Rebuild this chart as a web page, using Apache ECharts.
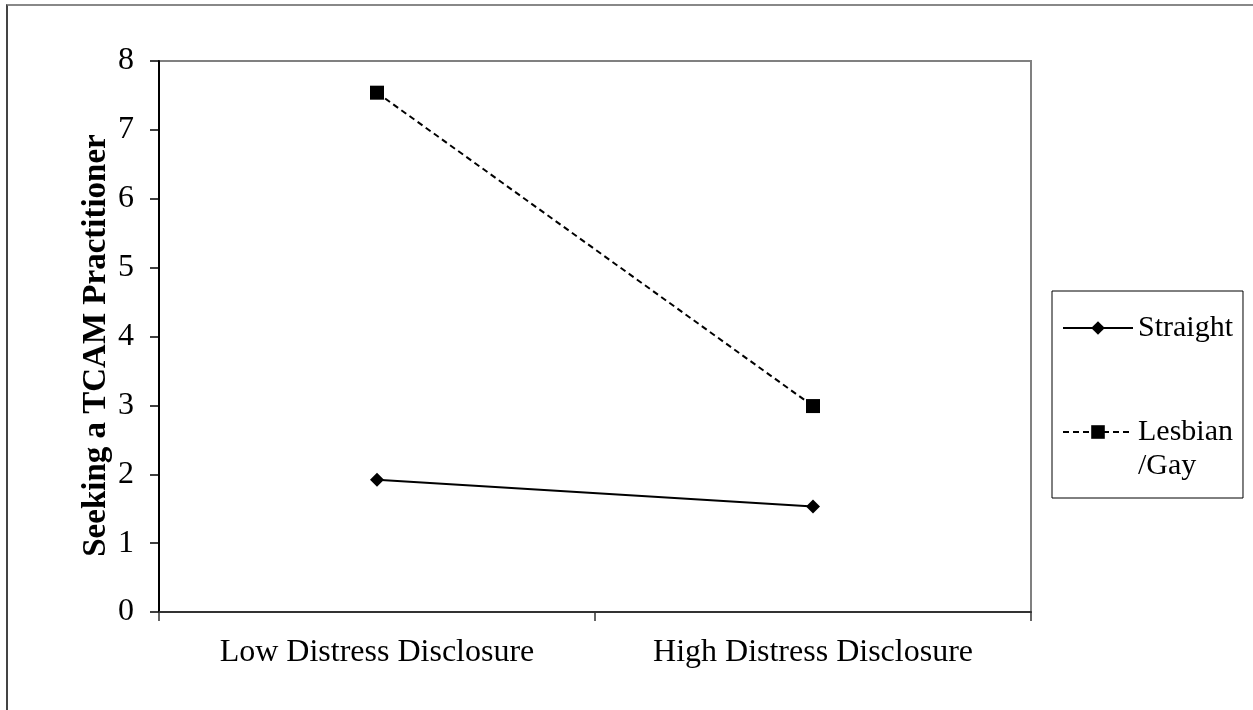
<!DOCTYPE html>
<html>
<head>
<meta charset="utf-8">
<script src="https://cdn.jsdelivr.net/npm/echarts@6/dist/echarts.min.js"></script>
<style>
  html, body { margin: 0; padding: 0; background: #fff; }
  #chart { position: absolute; left: 0; top: 0; width: 1253px; height: 710px; }
  #frame { position: absolute; left: 6px; top: 4px; width: 1300px; height: 800px;
           border-left: 2px solid #444; border-top: 2px solid #888; pointer-events: none; }
</style>
</head>
<body>
<div id="chart"></div>
<div id="frame"></div>
<script>
const categories = ['Low Distress Disclosure', 'High Distress Disclosure'];
const straightValues = [1.92, 1.53];
const lesbianGayValues = [7.54, 2.99];
const seriesNames = ['Straight', 'Lesbian/Gay'];
const yTicks = [0, 1, 2, 3, 4, 5, 6, 7, 8];
const yAxisTitle = 'Seeking a TCAM Practitioner';

const FONT = '"Liberation Serif", "Times New Roman", serif';

const chart = echarts.init(document.getElementById('chart'), null, { renderer: 'canvas' });
chart.setOption({
  animation: false,
  backgroundColor: 'transparent',
  grid: {
    left: 159, right: 222, top: 61, bottom: 98,
    show: true, borderColor: '#808080', borderWidth: 2, backgroundColor: 'transparent'
  },
  legend: {
    orient: 'vertical',
    left: 1052, top: 291,
    padding: [20, 10, 15, 10],
    itemGap: 36,
    itemWidth: 70,
    itemHeight: 17,
    borderColor: '#000', borderWidth: 1,
    backgroundColor: '#fff',
    textStyle: { fontFamily: FONT, fontSize: 30, color: '#000', lineHeight: 34 },
    formatter: function (name) { return name === 'Lesbian/Gay' ? '\nLesbian\n/Gay' : name; },
    data: seriesNames
  },
  xAxis: {
    type: 'category',
    data: categories,
    boundaryGap: true,
    axisLine: { show: true, lineStyle: { color: '#333', width: 2 } },
    axisTick: { show: true, length: 9, lineStyle: { color: '#333', width: 1.5 }, alignWithLabel: false },
    axisLabel: { fontFamily: FONT, fontSize: 32, color: '#000', margin: 25 },
    splitLine: { show: false }
  },
  yAxis: {
    type: 'value',
    min: 0, max: 8, interval: 1,
    name: yAxisTitle,
    nameLocation: 'middle',
    nameGap: 46,
    nameMoveOverlap: false,
    nameRotate: 90,
    nameTextStyle: { fontFamily: FONT, fontSize: 33, fontWeight: 'bold', color: '#000', padding: [0, 18, 0, 0] },
    axisLine: { show: true, lineStyle: { color: '#000', width: 2 } },
    axisTick: { show: true, length: 9, lineStyle: { color: '#000', width: 1.5 } },
    axisLabel: {
      fontFamily: FONT, fontSize: 32, color: '#000', margin: 25,
      formatter: function (v) { return yTicks.indexOf(v) >= 0 ? String(v) : ''; }
    },
    splitLine: { show: false }
  },
  series: [
    {
      name: seriesNames[0],
      type: 'line',
      data: straightValues,
      symbol: 'diamond',
      symbolSize: 14,
      itemStyle: { color: '#000' },
      lineStyle: { color: '#000', width: 2, type: 'solid' }
    },
    {
      name: seriesNames[1],
      type: 'line',
      data: lesbianGayValues,
      symbol: 'rect',
      symbolSize: 14,
      itemStyle: { color: '#000' },
      lineStyle: { color: '#000', width: 2, type: [6, 4] }
    }
  ]
});
</script>
</body>
</html>
